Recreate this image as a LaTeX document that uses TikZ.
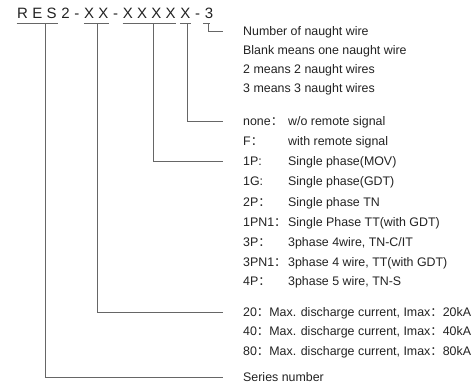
\documentclass[tikz,border=0pt]{standalone}
\usepackage{fontspec}
\setmainfont{Liberation Sans}
\newfontfamily\cjk{Noto Sans CJK SC}
\usetikzlibrary{calc}
\definecolor{txt}{HTML}{222222}
\definecolor{ln}{HTML}{666666}
\newcommand\fc{{\cjk ：}}
\newcommand\lsp{\kern4.3pt}
\newcommand\lab[2]{\makebox[45pt][l]{#1}#2}
\begin{document}
\begin{tikzpicture}[x=1pt,y=-1pt,
  ttl/.style={inner sep=0pt, anchor=base west, font=\fontsize{15}{18}\selectfont, text=txt},
  row/.style={anchor=west, inner sep=0pt, text height=10pt, text depth=1.2pt, text=txt, font=\fontsize{12.4}{14}\selectfont},
  conn/.style={draw=ln, line width=0.9pt}]
\useasboundingbox (0,0) rectangle (474,387);
% title
\node[ttl] (res) at (17,19) {R\lsp E\lsp S};
\node[ttl] (two) at ([xshift=4.3pt]res.base east) {2};
\node[ttl] (m1) at ([xshift=4.3pt]two.base east) {-};
\node[ttl] (xx) at ([xshift=4.3pt]m1.base east) {X\lsp X};
\node[ttl] (m2) at ([xshift=4.3pt]xx.base east) {-};
\node[ttl] (x4) at ([xshift=4.3pt]m2.base east) {X\lsp X\lsp X\lsp X};
\node[ttl] (x5) at ([xshift=4.3pt]x4.base east) {X};
\node[ttl] (m3) at ([xshift=4.3pt]x5.base east) {-};
\node[ttl] (three) at ([xshift=4.3pt]m3.base east) {3};
% rows
\node[row] (n1) at (243,31) {Number of naught wire};
\node[row] (n2) at (243,50) {Blank means one naught wire};
\node[row] (n3) at (243,69) {2 means 2 naught wires};
\node[row] (n4) at (243,88) {3 means 3 naught wires};
\node[row] (f1) at (243,121) {\lab{none\fc}{w/o remote signal}};
\node[row] (f2) at (243,141) {\lab{F\fc}{with remote signal}};
\node[row] (p1) at (243,161) {\lab{1P:}{Single phase(MOV)}};
\node[row] (p2) at (243,181) {\lab{1G:}{Single phase(GDT)}};
\node[row] (p3) at (243,202) {\lab{2P\fc}{Single phase TN}};
\node[row] (p4) at (243,222) {\lab{1PN1\fc}{Single Phase TT(with GDT)}};
\node[row] (p5) at (243,242) {\lab{3P\fc}{3phase 4wire, TN-C/IT}};
\node[row] (p6) at (243,262) {\lab{3PN1\fc}{3phase 4 wire, TT(with GDT)}};
\node[row] (p7) at (243,281) {\lab{4P\fc}{3phase 5 wire, TN-S}};
\node[row] (c1) at (243,312) {20\fc Max. discharge current, Imax\fc 20kA};
\node[row] (c2) at (243,331) {40\fc Max. discharge current, Imax\fc 40kA};
\node[row] (c3) at (243,351) {80\fc Max. discharge current, Imax\fc 80kA};
\node[row] (s1) at (243,377) {Series number};
% underlines
\draw[conn] ([xshift=-0.5pt,yshift=-4.5pt]res.south west) -- ([xshift=1pt,yshift=-4.5pt]res.south east);
\draw[conn] ([yshift=-4.5pt]xx.south west) -- ([yshift=-4.5pt]xx.south east);
\draw[conn] ([yshift=-4.5pt]x4.south west) -- ([yshift=-4.5pt]x4.south east);
\draw[conn] ([yshift=-4.5pt]x5.south west) -- ([yshift=-4.5pt]x5.south east);
\draw[conn] ([xshift=-1.5pt,yshift=-4.5pt]three.south west) -- ([xshift=5.5pt,yshift=-4.5pt]three.south west);
% leaders
\draw[conn] ([xshift=9pt,yshift=-4.5pt]res.south) |- ([xshift=-20pt]s1.west);
\draw[conn] ([xshift=1.5pt,yshift=-4.5pt]xx.south) |- ([xshift=-20pt]c1.west);
\draw[conn] ([xshift=4.5pt,yshift=-4.5pt]x4.south) |- ([xshift=-20pt]p1.west);
\draw[conn] ([xshift=2.5pt,yshift=-4.5pt]x5.south) |- ([xshift=-20pt]f1.west);
\draw[conn] ([xshift=3.6pt,yshift=-4.5pt]three.south west) |- ([xshift=-20pt]n1.west);
\end{tikzpicture}
\end{document}
